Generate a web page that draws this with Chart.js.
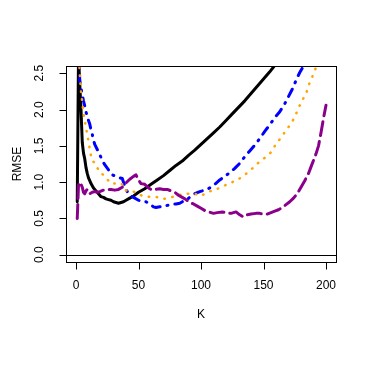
<!DOCTYPE html>
<html>
<head>
<meta charset="utf-8">
<script src="https://cdn.jsdelivr.net/npm/chart.js@4.4.1/dist/chart.umd.min.js"></script>
<style>
    html, body { margin: 0; padding: 0; background: #fff; }
    canvas { display: block; }
</style>
</head>
<body>
<canvas id="rmse-chart" width="374" height="374"></canvas>
<script>
// 1. Data
const xTicks = [0, 50, 100, 150, 200];
const yTicks = [0, 0.5, 1, 1.5, 2, 2.5];
const yTickLabels = ['0.0', '0.5', '1.0', '1.5', '2.0', '2.5'];

const kBlack = [1, 2, 3, 4, 5, 6, 7, 8, 9, 10, 11, 12, 13, 14, 16, 18, 20, 22, 24, 26, 28, 30, 32, 34, 36, 38, 40, 43, 46, 50,
    55, 60, 65, 70, 75, 80, 85, 90, 95, 100, 105, 110, 115, 120, 125, 130, 135, 140, 145, 150, 155, 160, 170, 185, 200];
const rmseBlack = [0.73, 2.75, 2.35, 2.0, 1.55, 1.40, 1.32, 1.20, 1.12, 1.06, 1.02, 0.98, 0.95, 0.92, 0.88, 0.84, 0.80, 0.79, 0.77, 0.76, 0.75, 0.73, 0.72, 0.71, 0.72, 0.73, 0.75, 0.78, 0.81, 0.86,
    0.91, 0.97, 1.03, 1.09, 1.16, 1.23, 1.29, 1.37, 1.44, 1.52, 1.60, 1.68, 1.76, 1.85, 1.94, 2.03, 2.12, 2.22, 2.32, 2.42, 2.52, 2.63, 2.85, 3.2, 3.55];

const kBlue = [2, 3, 4, 5, 6, 7, 8, 9, 10, 11, 12, 13, 14, 15, 17, 19, 21, 23, 26, 29, 32, 35, 37, 39, 41, 43, 46, 50, 53, 56,
    59, 62, 64, 67, 70, 73, 76, 80, 83, 86, 89, 92, 95, 99, 103, 107, 111, 115, 119, 123, 127, 131, 135, 139, 143, 147, 151, 155, 159, 163,
    167, 170, 173, 175, 177, 179, 181, 183, 190, 200];
const rmseBlue = [2.9, 2.4, 2.3, 2.2, 2.12, 2.05, 1.97, 1.9, 1.85, 1.8, 1.72, 1.66, 1.58, 1.52, 1.45, 1.38, 1.3, 1.24, 1.17, 1.1, 1.08, 1.06, 1.05, 0.95, 0.87, 0.82, 0.79, 0.75, 0.74, 0.73,
    0.7, 0.66, 0.65, 0.66, 0.67, 0.68, 0.69, 0.7, 0.71, 0.74, 0.76, 0.81, 0.84, 0.87, 0.89, 0.92, 0.97, 1.03, 1.08, 1.13, 1.19, 1.26, 1.35, 1.43, 1.51, 1.6, 1.7, 1.79, 1.89, 1.97,
    2.08, 2.18, 2.28, 2.36, 2.44, 2.51, 2.57, 2.65, 2.9, 3.3];

const kOrange = [2, 4, 6, 8, 9, 10, 11, 12, 13, 15, 17, 19, 21, 23, 25, 28, 32, 35, 37, 39, 42, 46, 50, 53, 56, 62, 66, 70, 74, 78,
    82, 86, 90, 95, 100, 104, 108, 112, 116, 121, 125, 130, 135, 140, 144, 149, 153, 157, 160, 163, 166, 168, 172, 175, 178, 181, 184, 186, 189, 192,
    195, 200];
const rmseOrange = [2.8, 2.25, 1.95, 1.75, 1.66, 1.56, 1.46, 1.36, 1.29, 1.27, 1.2, 1.13, 1.11, 1.09, 1.04, 0.98, 0.98, 0.99, 0.97, 0.89, 0.88, 0.87, 0.84, 0.81, 0.8, 0.8, 0.79, 0.77, 0.78, 0.8,
    0.82, 0.84, 0.84, 0.84, 0.81, 0.85, 0.88, 0.9, 0.93, 0.97, 1.0, 1.04, 1.1, 1.17, 1.24, 1.31, 1.36, 1.43, 1.53, 1.59, 1.66, 1.72, 1.8, 1.9, 2.02, 2.13, 2.21, 2.33, 2.45, 2.58,
    2.72, 3.0];

const kPurple = [1, 2, 3, 4, 5, 6, 7, 8, 9, 10, 11, 13, 15, 17, 19, 22, 25, 28, 31, 34, 37, 40, 43, 46, 48, 50, 52, 55, 58, 61,
    64, 67, 70, 73, 76, 79, 82, 85, 88, 91, 94, 97, 100, 103, 106, 110, 113, 117, 120, 124, 128, 131, 134, 137, 140, 144, 147, 150, 153, 156,
    159, 162, 165, 168, 171, 174, 177, 180, 183, 186, 188, 190, 192, 194, 196, 198, 200];
const rmsePurple = [0.5, 0.96, 1.0, 0.97, 0.93, 0.86, 0.84, 0.88, 0.9, 0.87, 0.84, 0.86, 0.87, 0.86, 0.87, 0.89, 0.9, 0.9, 0.89, 0.9, 0.93, 0.99, 1.04, 1.08, 1.1, 1.03, 0.98, 0.97, 0.92, 0.89,
    0.9, 0.91, 0.9, 0.9, 0.88, 0.86, 0.82, 0.79, 0.76, 0.72, 0.7, 0.67, 0.64, 0.61, 0.59, 0.57, 0.58, 0.59, 0.58, 0.57, 0.59, 0.55, 0.52, 0.55, 0.56, 0.57, 0.57, 0.56, 0.56, 0.58,
    0.6, 0.62, 0.65, 0.69, 0.73, 0.78, 0.84, 0.93, 1.02, 1.12, 1.21, 1.3, 1.39, 1.5, 1.68, 1.88, 2.06];

// 2. Helpers
const FONT = '12px "Liberation Sans", Arial, sans-serif';

function toPoints(ks, vals) {
    return ks.map((k, i) => ({ x: k, y: vals[i] }));
}

function series(ks, vals, color, width, dash, order) {
    return {
        data: toPoints(ks, vals),
        borderColor: color,
        borderWidth: width,
        borderDash: dash,
        borderCapStyle: 'round',
        borderJoinStyle: 'round',
        pointRadius: 0,
        tension: 0,
        fill: false,
        order: order
    };
}

// base-graphics style frame: box, outward ticks, rotated y labels, h = 0 line
const rFrame = {
    id: 'rFrame',
    beforeDatasetsDraw(chart) {
        const { ctx, chartArea: a, scales: { y } } = chart;
        const y0 = Math.round(y.getPixelForValue(0)) + 0.5;
        ctx.save();
        ctx.strokeStyle = '#000';
        ctx.lineWidth = 1;
        ctx.beginPath();
        ctx.moveTo(a.left, y0);
        ctx.lineTo(a.right, y0);
        ctx.stroke();
        ctx.restore();
    },
    afterDraw(chart) {
        const { ctx, chartArea: a, scales: { x, y } } = chart;
        const left = Math.round(a.left) + 0.5;
        const bottom = Math.round(a.bottom) + 0.5;
        ctx.save();
        ctx.strokeStyle = '#000';
        ctx.lineWidth = 1;
        ctx.strokeRect(left, Math.round(a.top) + 0.5, Math.round(a.right - a.left), Math.round(a.bottom - a.top));

        ctx.fillStyle = '#000';
        ctx.font = FONT;
        ctx.textAlign = 'center';
        ctx.textBaseline = 'middle';

        // x axis
        ctx.beginPath();
        xTicks.forEach(t => {
            const px = Math.round(x.getPixelForValue(t)) + 0.5;
            ctx.moveTo(px, bottom);
            ctx.lineTo(px, bottom + 7);
        });
        ctx.stroke();
        xTicks.forEach(t => ctx.fillText(String(t), x.getPixelForValue(t), bottom + 23));
        ctx.fillText('K', (a.left + a.right) / 2, bottom + 52);

        // y axis
        ctx.beginPath();
        yTicks.forEach(t => {
            const py = Math.round(y.getPixelForValue(t)) + 0.5;
            ctx.moveTo(left, py);
            ctx.lineTo(left - 7, py);
        });
        ctx.stroke();
        yTicks.forEach((t, i) => {
            ctx.save();
            ctx.translate(left - 27, y.getPixelForValue(t));
            ctx.rotate(-Math.PI / 2);
            ctx.fillText(yTickLabels[i], 0, 0);
            ctx.restore();
        });
        ctx.save();
        ctx.translate(left - 49, (a.top + a.bottom) / 2);
        ctx.rotate(-Math.PI / 2);
        ctx.fillText('RMSE', 0, 0);
        ctx.restore();
        ctx.restore();
    }
};

// 3. Chart
new Chart(document.getElementById('rmse-chart'), {
    type: 'line',
    data: {
        datasets: [
            series(kBlack, rmseBlack, '#000000', 3, [], 3),
            series(kBlue, rmseBlue, '#0000FF', 3, [1, 7, 8, 7], 2),
            series(kOrange, rmseOrange, '#FFA500', 2.5, [0.5, 7.5], 1),
            series(kPurple, rmsePurple, '#8B008B', 3, [14, 6], 0)
        ]
    },
    options: {
        responsive: false,
        animation: false,
        devicePixelRatio: 1,
        layout: { padding: { left: 66, right: 38, top: 66, bottom: 112 } },
        plugins: { legend: { display: false }, tooltip: { enabled: false } },
        scales: {
            x: { type: 'linear', min: -8, max: 208, display: false },
            y: { type: 'linear', min: -0.1, max: 2.6, display: false }
        }
    },
    plugins: [rFrame]
});
</script>
</body>
</html>
